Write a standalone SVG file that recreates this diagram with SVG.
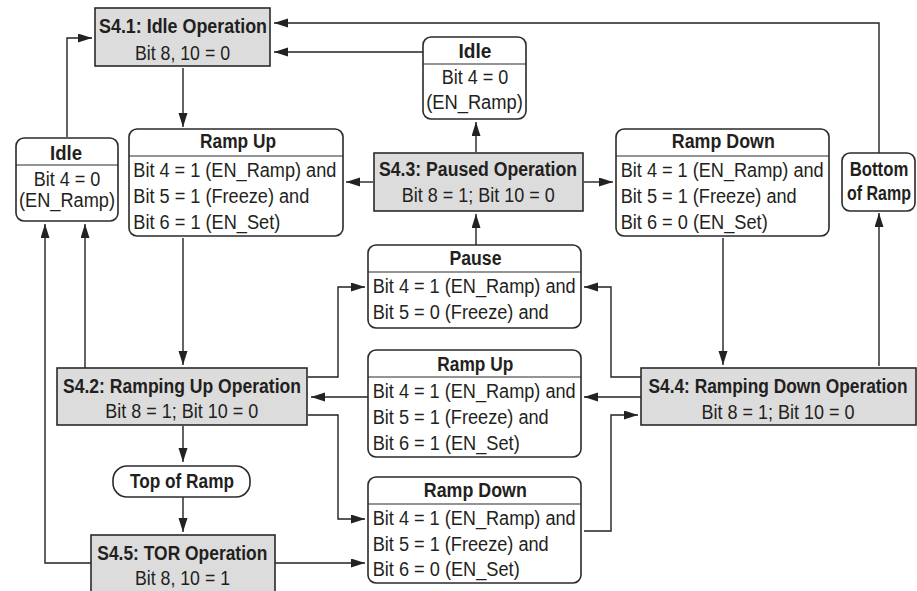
<svg xmlns="http://www.w3.org/2000/svg" width="917" height="591" viewBox="0 0 917 591">
<defs>
<marker id="ah" markerUnits="userSpaceOnUse" markerWidth="16" markerHeight="10" refX="14" refY="4.5" orient="auto">
<path d="M0,0 L14,4.5 L0,9 Z" fill="#222"/>
</marker>
<style>
.st{fill:#dcdcdc;stroke:#2a2a2a;stroke-width:1.6}
.cd{fill:#fff;stroke:#2a2a2a;stroke-width:1.6}
.dv{stroke:#2a2a2a;stroke-width:1.2}
.cn{fill:none;stroke:#222;stroke-width:1.4;marker-end:url(#ah)}
text{font-family:"Liberation Sans",Arial,sans-serif;font-size:19.5px;fill:#231f20}
.b{font-weight:bold}
.m{text-anchor:middle}
</style>
</defs>
<rect width="917" height="591" fill="#fff"/>

<g id="connectors">
<path class="cn" d="M879,153 V23 H274"/>
<path class="cn" d="M423,52 H274"/>
<path class="cn" d="M67,137 V38 H92"/>
<path class="cn" d="M183,68 V127"/>
<path class="cn" d="M476,152 V122"/>
<path class="cn" d="M373,182 H346"/>
<path class="cn" d="M584,182 H613"/>
<path class="cn" d="M183,238 V365"/>
<path class="cn" d="M723,238 V365"/>
<path class="cn" d="M879,366 V213"/>
<path class="cn" d="M476,245 V214"/>
<path class="cn" d="M308,377 H338 V287 H365"/>
<path class="cn" d="M641,377 H611 V287 H584"/>
<path class="cn" d="M368,397 H311"/>
<path class="cn" d="M641,397 H584"/>
<path class="cn" d="M308,415 H338 V519 H365"/>
<path class="cn" d="M584,531 H611 V415 H638"/>
<path class="cn" d="M85,368 V224"/>
<path class="cn" d="M91,563 H45 V224"/>
<path class="cn" d="M183,426 V462"/>
<path class="cn" d="M183,497 V532"/>
<path class="cn" d="M275,563 H365"/>
</g>

<g id="s41">
<rect class="st" x="95" y="8" width="175" height="58"/>
<text class="b m" x="183" y="33" textLength="168" lengthAdjust="spacingAndGlyphs">S4.1: Idle Operation</text>
<text class="m" x="182.5" y="59.5" textLength="95" lengthAdjust="spacingAndGlyphs">Bit 8, 10 = 0</text>
</g>

<g id="idle-top">
<rect class="cd" x="423" y="37" width="103" height="82" rx="8"/>
<line class="dv" x1="423" y1="64" x2="526" y2="64"/>
<text class="b m" x="475" y="57.5" textLength="33" lengthAdjust="spacingAndGlyphs">Idle</text>
<text class="m" x="475" y="84" textLength="66.7" lengthAdjust="spacingAndGlyphs">Bit 4 = 0</text>
<text class="m" x="474.5" y="108.5" textLength="96.7" lengthAdjust="spacingAndGlyphs">(EN_Ramp)</text>
</g>

<g id="idle-left">
<rect class="cd" x="16" y="138" width="102" height="83" rx="8"/>
<line class="dv" x1="16" y1="165" x2="118" y2="165"/>
<text class="b m" x="66" y="160" textLength="32" lengthAdjust="spacingAndGlyphs">Idle</text>
<text class="m" x="67" y="186" textLength="66.7" lengthAdjust="spacingAndGlyphs">Bit 4 = 0</text>
<text class="m" x="67" y="207" textLength="96" lengthAdjust="spacingAndGlyphs">(EN_Ramp)</text>
</g>

<g id="rampup-top">
<rect class="cd" x="129" y="129" width="214" height="107" rx="8"/>
<line class="dv" x1="129" y1="156" x2="343" y2="156"/>
<text class="b m" x="238" y="148" textLength="76" lengthAdjust="spacingAndGlyphs">Ramp Up</text>
<text x="133.3" y="177" textLength="203" lengthAdjust="spacingAndGlyphs">Bit 4 = 1 (EN_Ramp) and</text>
<text x="133.3" y="203" textLength="176" lengthAdjust="spacingAndGlyphs">Bit 5 = 1 (Freeze) and</text>
<text x="133.3" y="229" textLength="147" lengthAdjust="spacingAndGlyphs">Bit 6 = 1 (EN_Set)</text>
</g>

<g id="s43">
<rect class="st" x="374" y="153" width="209" height="58"/>
<text class="b m" x="478" y="175.7" textLength="198" lengthAdjust="spacingAndGlyphs">S4.3: Paused Operation</text>
<text class="m" x="478.3" y="201.7" textLength="153" lengthAdjust="spacingAndGlyphs">Bit 8 = 1; Bit 10 = 0</text>
</g>

<g id="rampdown-top">
<rect class="cd" x="616" y="129" width="213" height="107" rx="8"/>
<line class="dv" x1="616" y1="156" x2="829" y2="156"/>
<text class="b m" x="723.3" y="148" textLength="103" lengthAdjust="spacingAndGlyphs">Ramp Down</text>
<text x="620.7" y="177" textLength="203" lengthAdjust="spacingAndGlyphs">Bit 4 = 1 (EN_Ramp) and</text>
<text x="620.7" y="203" textLength="176" lengthAdjust="spacingAndGlyphs">Bit 5 = 1 (Freeze) and</text>
<text x="620.7" y="229" textLength="147" lengthAdjust="spacingAndGlyphs">Bit 6 = 0 (EN_Set)</text>
</g>

<g id="bottom-of-ramp">
<rect class="cd" x="842" y="153" width="73" height="58" rx="8"/>
<text class="b m" transform="translate(879,175.7) scale(0.86,1)">Bottom</text>
<text class="b m" transform="translate(879,200) scale(0.82,1)">of Ramp</text>
</g>

<g id="pause">
<rect class="cd" x="368" y="245" width="213" height="83" rx="8"/>
<line class="dv" x1="368" y1="272" x2="581" y2="272"/>
<text class="b m" x="475.5" y="265" textLength="52" lengthAdjust="spacingAndGlyphs">Pause</text>
<text x="372.7" y="293.3" textLength="203" lengthAdjust="spacingAndGlyphs">Bit 4 = 1 (EN_Ramp) and</text>
<text x="372.7" y="319" textLength="176" lengthAdjust="spacingAndGlyphs">Bit 5 = 0 (Freeze) and</text>
</g>

<g id="rampup-mid">
<rect class="cd" x="368" y="350" width="213" height="107" rx="8"/>
<line class="dv" x1="368" y1="377" x2="581" y2="377"/>
<text class="b m" x="475.3" y="370.7" textLength="76" lengthAdjust="spacingAndGlyphs">Ramp Up</text>
<text x="372.7" y="398.3" textLength="203" lengthAdjust="spacingAndGlyphs">Bit 4 = 1 (EN_Ramp) and</text>
<text x="372.7" y="424" textLength="176" lengthAdjust="spacingAndGlyphs">Bit 5 = 1 (Freeze) and</text>
<text x="372.7" y="450" textLength="147" lengthAdjust="spacingAndGlyphs">Bit 6 = 1 (EN_Set)</text>
</g>

<g id="rampdown-bot">
<rect class="cd" x="368" y="477" width="213" height="106" rx="8"/>
<line class="dv" x1="368" y1="504" x2="581" y2="504"/>
<text class="b m" x="475.3" y="497.3" textLength="103" lengthAdjust="spacingAndGlyphs">Ramp Down</text>
<text x="372.7" y="525" textLength="203" lengthAdjust="spacingAndGlyphs">Bit 4 = 1 (EN_Ramp) and</text>
<text x="372.7" y="550.7" textLength="176" lengthAdjust="spacingAndGlyphs">Bit 5 = 1 (Freeze) and</text>
<text x="372.7" y="576" textLength="147" lengthAdjust="spacingAndGlyphs">Bit 6 = 0 (EN_Set)</text>
</g>

<g id="s42">
<rect class="st" x="57" y="368" width="250" height="57"/>
<text class="b m" x="182" y="393" textLength="238" lengthAdjust="spacingAndGlyphs">S4.2: Ramping Up Operation</text>
<text class="m" x="181.7" y="417.5" textLength="153" lengthAdjust="spacingAndGlyphs">Bit 8 = 1; Bit 10 = 0</text>
</g>

<g id="s44">
<rect class="st" x="641" y="368" width="275" height="57"/>
<text class="b m" transform="translate(778,393.3) scale(0.89,1)">S4.4: Ramping Down Operation</text>
<text class="m" x="778" y="419" textLength="153" lengthAdjust="spacingAndGlyphs">Bit 8 = 1; Bit 10 = 0</text>
</g>

<g id="top-of-ramp">
<rect class="cd" x="113" y="466" width="137" height="31" rx="14"/>
<text class="b m" x="182" y="488" textLength="104" lengthAdjust="spacingAndGlyphs">Top of Ramp</text>
</g>

<g id="s45">
<rect class="st" x="91" y="535" width="184" height="70"/>
<text class="b m" x="182.3" y="560" textLength="170" lengthAdjust="spacingAndGlyphs">S4.5: TOR Operation</text>
<text class="m" x="182.5" y="585" textLength="95" lengthAdjust="spacingAndGlyphs">Bit 8, 10 = 1</text>
</g>
</svg>
